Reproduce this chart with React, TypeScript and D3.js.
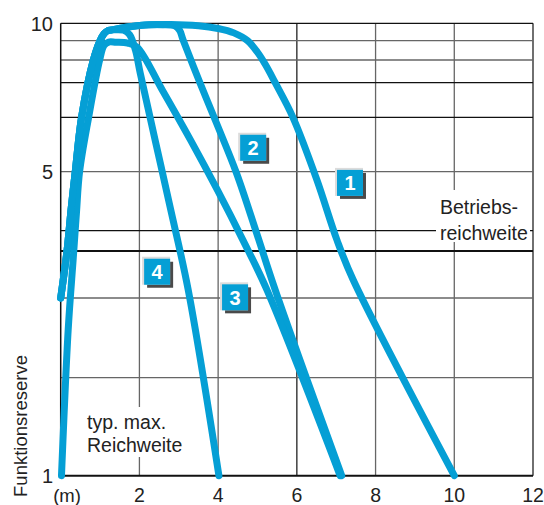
import React from 'react';
import * as d3 from 'd3';

// ---- data ----
const xTicks = [2, 4, 6, 8, 10, 12];
const yLabelTicks = [1, 5, 10];
const yGridValues = [1, 2, 3, 4, 5, 6, 7, 8, 9, 10];
// relative position (0 = bottom, 1 = top) of each grid value on the printed, non-uniform reserve axis
const yGridFractions = [0, 0.2166, 0.3928, 0.5416, 0.672, 0.7922, 0.8687, 0.9189, 0.9615, 1];
const operatingReserve = 3.7;

const riseA: [number, number][] = [
  [0, 3.0], [0.16, 3.7], [0.27, 4.4], [0.37, 5.0], [0.53, 6.0], [0.83, 8.0], [1.0, 9.0], [1.1, 9.4], [1.2, 9.58],
];
const riseB: [number, number][] = [
  [0.02, 1.0], [0.19, 2.6], [0.32, 3.6], [0.4, 4.3], [0.48, 5.0], [0.71, 6.0], [0.99, 8.0], [1.1, 8.75], [1.22, 8.93],
];
const tail1: [number, number][] = [
  [1.3, 9.62], [1.6, 9.75], [2.0, 9.88], [2.8, 9.93], [3.5, 9.86], [4.0, 9.7], [4.4, 9.45], [4.75, 9.0],
  [5.0, 8.4], [5.2, 7.8], [5.45, 7.0], [5.9, 6.0], [6.51, 4.86], [7.02, 3.86], [7.43, 3.27], [10.0, 1.0],
];
const tail2: [number, number][] = [
  [1.3, 9.62], [1.6, 9.75], [2.0, 9.88], [2.6, 9.92], [2.9, 9.85], [3.02, 9.6], [3.11, 9.04], [3.54, 6.99],
  [3.96, 5.89], [4.47, 4.97], [4.98, 3.96], [5.45, 3.12], [7.14, 1.0],
];
const tail3: [number, number][] = [
  [1.4, 8.92], [1.7, 8.88], [1.94, 8.67], [2.58, 6.79], [3.3, 5.58], [3.98, 4.69], [4.63, 3.86], [5.24, 3.12], [7.1, 1.0],
];
const tail4: [number, number][] = [
  [1.3, 9.62], [1.6, 9.6], [1.75, 9.35], [1.9, 8.5], [2.02, 7.43], [2.4, 5.58], [2.78, 4.4], [3.24, 3.12], [4.02, 1.0],
];
const curveIds = ['1', '2', '3', '4'];
const curvePoints = [
  [...riseA, ...tail1],
  [...riseA, ...tail2],
  [...riseB, ...tail3],
  [...riseA, ...tail4],
];
const labelX = [7.35, 4.89, 4.43, 2.45];
const labelY = [4.81, 5.44, 3.01, 3.39];

// ---- layout ----
const W = 544;
const H = 505;
const M = { left: 60.7, top: 23.3, right: 11, bottom: 29.3 };
const innerW = W - M.left - M.right;
const innerH = H - M.top - M.bottom;
const BLUE = '#059fd5';
const FONT = '"Liberation Sans", Arial, sans-serif';

const x = d3.scaleLinear().domain([0, 12]).range([M.left, M.left + innerW]);
const y = d3
  .scaleLinear()
  .domain(yGridValues)
  .range(yGridFractions.map((f) => M.top + innerH - f * innerH));

const line = d3
  .line<[number, number]>()
  .x((d) => x(d[0]))
  .y((d) => y(d[1]))
  .curve(d3.curveCatmullRom.alpha(0.5));

const darkY = new Set([10, 7, 6, 4]);
const darkX = new Set([6, 12]);

export default function App() {
  const boxSize = 26;
  return (
    <svg
      width={W}
      height={H}
      viewBox={`0 0 ${W} ${H}`}
      style={{ position: 'absolute', left: 0, top: 0, background: '#fff' }}
      fontFamily={FONT}
    >
      <rect x={0} y={0} width={W} height={H} fill="#fff" />
      {/* vertical grid */}
      {xTicks.map((t) => (
        <line
          key={'vx' + t}
          x1={x(t)}
          x2={x(t)}
          y1={y(10)}
          y2={y(1)}
          stroke={darkX.has(t) ? '#222' : '#666'}
          strokeWidth={1.3}
        />
      ))}
      {/* horizontal grid */}
      {yGridValues.slice(1).map((v) => (
        <line
          key={'hy' + v}
          x1={x(0)}
          x2={x(12)}
          y1={y(v)}
          y2={y(v)}
          stroke={darkY.has(v) ? '#111' : '#666'}
          strokeWidth={1.3}
        />
      ))}
      {/* operating range line */}
      <line x1={x(0)} x2={x(12)} y1={y(operatingReserve)} y2={y(operatingReserve)} stroke="#111" strokeWidth={2} />
      {/* text backgrounds */}
      <rect x={436} y={190} width={94} height={52} fill="#fff" />
      <rect x={83} y={407} width={104} height={50} fill="#fff" />
      {/* axes */}
      <line x1={x(0)} x2={x(0)} y1={y(10)} y2={y(1)} stroke="#111" strokeWidth={1.5} />
      <line x1={x(0)} x2={x(12)} y1={y(1)} y2={y(1)} stroke="#111" strokeWidth={2} />

      {/* curves */}
      {curvePoints.map((pts, i) => (
        <path
          key={'c' + curveIds[i]}
          d={line(pts) || ''}
          fill="none"
          stroke={BLUE}
          strokeWidth={7}
          strokeLinecap="round"
          strokeLinejoin="round"
        />
      ))}

      {/* curve labels */}
      {curveIds.map((id, i) => {
        const cx = x(labelX[i]);
        const cy = y(labelY[i]);
        const bx = cx - boxSize / 2;
        const by = cy - boxSize / 2;
        return (
          <g key={'l' + id}>
            <rect x={bx + 3} y={by + 3} width={boxSize} height={boxSize} fill="#4a4a4a" />
            <rect x={bx - 2} y={by - 2} width={boxSize + 2} height={boxSize + 2} fill="#dcdcdc" />
            <rect x={bx} y={by} width={boxSize} height={boxSize} fill={BLUE} />
            <text x={cx} y={cy} dy="0.36em" textAnchor="middle" fill="#fff" fontSize={20} fontWeight="bold">
              {id}
            </text>
          </g>
        );
      })}

      {/* y tick labels */}
      {yLabelTicks.map((v) => (
        <text key={'yl' + v} x={53} y={y(v)} dy="0.36em" textAnchor="end" fontSize={20} fill="#222">
          {v}
        </text>
      ))}
      {/* x tick labels */}
      <text x={67} y={495} dy="0.36em" textAnchor="middle" fontSize={18.5} fill="#222">
        (m)
      </text>
      {xTicks.map((t) => (
        <text key={'xl' + t} x={x(t)} y={495} dy="0.36em" textAnchor="middle" fontSize={19.5} fill="#222">
          {t}
        </text>
      ))}
      {/* y title */}
      <text
        transform={`translate(20,426) rotate(-90)`}
        dy="0.36em"
        textAnchor="middle"
        fontSize={18.5}
        fill="#222"
      >
        Funktionsreserve
      </text>
      {/* annotations */}
      <text x={440} y={207} dy="0.36em" fontSize={19.5} fill="#222">
        Betriebs-
      </text>
      <text x={440} y={233} dy="0.36em" fontSize={19.5} fill="#222">
        reichweite
      </text>
      <text x={87} y={422} dy="0.36em" fontSize={19.5} fill="#222">
        typ. max.
      </text>
      <text x={87} y={445} dy="0.36em" fontSize={19.5} fill="#222">
        Reichweite
      </text>
    </svg>
  );
}
